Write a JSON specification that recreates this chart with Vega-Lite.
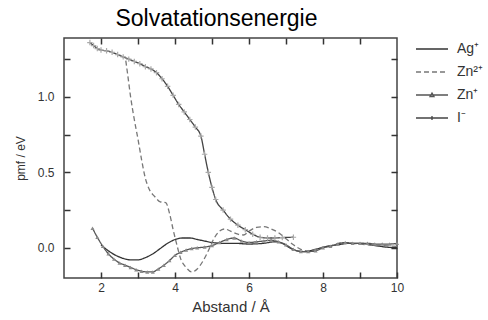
{
  "$schema": "https://vega.github.io/schema/vega-lite/v6.json",
  "autosize": {"type": "none"},
  "width": 333,
  "height": 240,
  "padding": {"left": 64, "top": 38, "right": 91, "bottom": 42},
  "background": "white",
  "config": {
    "font": "Liberation Sans",
    "view": {"stroke": "#444", "strokeWidth": 1.5},
    "axis": {"grid": false, "domain": false, "labelColor": "#333", "labelFont": "Liberation Sans", "labelFontSize": 12, "titleFont": "Liberation Sans", "titleFontWeight": "normal", "titleColor": "#333"}
  },
  "title": {"text": "Solvatationsenergie", "fontSize": 23, "font": "Liberation Sans", "fontWeight": "normal", "color": "#000", "dx": -14, "offset": 6},
  "datasets": {
    "curves": [
      {"ion": "Ag\u207a", "r": 2.00, "pmf": 0.02},
      {"ion": "Ag\u207a", "r": 2.20, "pmf": -0.02},
      {"ion": "Ag\u207a", "r": 2.40, "pmf": -0.05},
      {"ion": "Ag\u207a", "r": 2.60, "pmf": -0.07},
      {"ion": "Ag\u207a", "r": 2.80, "pmf": -0.08},
      {"ion": "Ag\u207a", "r": 3.00, "pmf": -0.08},
      {"ion": "Ag\u207a", "r": 3.20, "pmf": -0.065},
      {"ion": "Ag\u207a", "r": 3.40, "pmf": -0.04},
      {"ion": "Ag\u207a", "r": 3.60, "pmf": -0.005},
      {"ion": "Ag\u207a", "r": 3.80, "pmf": 0.03},
      {"ion": "Ag\u207a", "r": 4.00, "pmf": 0.055},
      {"ion": "Ag\u207a", "r": 4.20, "pmf": 0.065},
      {"ion": "Ag\u207a", "r": 4.40, "pmf": 0.065},
      {"ion": "Ag\u207a", "r": 4.60, "pmf": 0.055},
      {"ion": "Ag\u207a", "r": 4.80, "pmf": 0.045},
      {"ion": "Ag\u207a", "r": 5.00, "pmf": 0.035},
      {"ion": "Ag\u207a", "r": 5.30, "pmf": 0.03},
      {"ion": "Ag\u207a", "r": 5.60, "pmf": 0.03},
      {"ion": "Ag\u207a", "r": 6.00, "pmf": 0.025},
      {"ion": "Ag\u207a", "r": 6.40, "pmf": 0.03},
      {"ion": "Ag\u207a", "r": 6.70, "pmf": 0.04},
      {"ion": "Ag\u207a", "r": 6.90, "pmf": 0.03},
      {"ion": "Ag\u207a", "r": 7.10, "pmf": 0.0},
      {"ion": "Ag\u207a", "r": 7.30, "pmf": -0.02},
      {"ion": "Ag\u207a", "r": 7.50, "pmf": -0.025},
      {"ion": "Ag\u207a", "r": 7.80, "pmf": -0.01},
      {"ion": "Ag\u207a", "r": 8.10, "pmf": 0.01},
      {"ion": "Ag\u207a", "r": 8.40, "pmf": 0.02},
      {"ion": "Ag\u207a", "r": 8.70, "pmf": 0.03},
      {"ion": "Ag\u207a", "r": 9.00, "pmf": 0.03},
      {"ion": "Ag\u207a", "r": 9.40, "pmf": 0.015},
      {"ion": "Ag\u207a", "r": 9.70, "pmf": 0.005},
      {"ion": "Ag\u207a", "r": 10.0, "pmf": 0.0},
      {"ion": "Zn\u00b2\u207a", "r": 2.67, "pmf": 1.24},
      {"ion": "Zn\u00b2\u207a", "r": 2.72, "pmf": 1.15},
      {"ion": "Zn\u00b2\u207a", "r": 2.80, "pmf": 1.0},
      {"ion": "Zn\u00b2\u207a", "r": 2.90, "pmf": 0.85},
      {"ion": "Zn\u00b2\u207a", "r": 3.00, "pmf": 0.72},
      {"ion": "Zn\u00b2\u207a", "r": 3.10, "pmf": 0.58},
      {"ion": "Zn\u00b2\u207a", "r": 3.20, "pmf": 0.46},
      {"ion": "Zn\u00b2\u207a", "r": 3.30, "pmf": 0.39},
      {"ion": "Zn\u00b2\u207a", "r": 3.45, "pmf": 0.34},
      {"ion": "Zn\u00b2\u207a", "r": 3.60, "pmf": 0.305},
      {"ion": "Zn\u00b2\u207a", "r": 3.75, "pmf": 0.30},
      {"ion": "Zn\u00b2\u207a", "r": 3.85, "pmf": 0.23},
      {"ion": "Zn\u00b2\u207a", "r": 3.95, "pmf": 0.12},
      {"ion": "Zn\u00b2\u207a", "r": 4.05, "pmf": 0.02},
      {"ion": "Zn\u00b2\u207a", "r": 4.15, "pmf": -0.07},
      {"ion": "Zn\u00b2\u207a", "r": 4.30, "pmf": -0.13},
      {"ion": "Zn\u00b2\u207a", "r": 4.45, "pmf": -0.16},
      {"ion": "Zn\u00b2\u207a", "r": 4.60, "pmf": -0.14},
      {"ion": "Zn\u00b2\u207a", "r": 4.75, "pmf": -0.09},
      {"ion": "Zn\u00b2\u207a", "r": 4.90, "pmf": -0.02},
      {"ion": "Zn\u00b2\u207a", "r": 5.05, "pmf": 0.06},
      {"ion": "Zn\u00b2\u207a", "r": 5.20, "pmf": 0.11},
      {"ion": "Zn\u00b2\u207a", "r": 5.35, "pmf": 0.125},
      {"ion": "Zn\u00b2\u207a", "r": 5.50, "pmf": 0.11},
      {"ion": "Zn\u00b2\u207a", "r": 5.70, "pmf": 0.09},
      {"ion": "Zn\u00b2\u207a", "r": 5.85, "pmf": 0.085},
      {"ion": "Zn\u00b2\u207a", "r": 6.00, "pmf": 0.11},
      {"ion": "Zn\u00b2\u207a", "r": 6.20, "pmf": 0.135},
      {"ion": "Zn\u00b2\u207a", "r": 6.40, "pmf": 0.14},
      {"ion": "Zn\u00b2\u207a", "r": 6.60, "pmf": 0.125},
      {"ion": "Zn\u00b2\u207a", "r": 6.80, "pmf": 0.10},
      {"ion": "Zn\u00b2\u207a", "r": 7.00, "pmf": 0.06},
      {"ion": "Zn\u00b2\u207a", "r": 7.20, "pmf": 0.02},
      {"ion": "Zn\u00b2\u207a", "r": 7.40, "pmf": -0.01},
      {"ion": "Zn\u00b2\u207a", "r": 7.60, "pmf": -0.02},
      {"ion": "Zn\u00b2\u207a", "r": 7.80, "pmf": -0.01},
      {"ion": "Zn\u00b2\u207a", "r": 8.00, "pmf": 0.005},
      {"ion": "Zn\u00b2\u207a", "r": 8.30, "pmf": 0.02},
      {"ion": "Zn\u00b2\u207a", "r": 8.50, "pmf": 0.035},
      {"ion": "Zn\u00b2\u207a", "r": 8.80, "pmf": 0.03},
      {"ion": "Zn\u00b2\u207a", "r": 9.20, "pmf": 0.02},
      {"ion": "Zn\u00b2\u207a", "r": 9.60, "pmf": 0.015},
      {"ion": "Zn\u00b2\u207a", "r": 10.0, "pmf": 0.01},
      {"ion": "Zn\u207a", "r": 1.77, "pmf": 0.13},
      {"ion": "Zn\u207a", "r": 1.90, "pmf": 0.07},
      {"ion": "Zn\u207a", "r": 2.05, "pmf": 0.01},
      {"ion": "Zn\u207a", "r": 2.20, "pmf": -0.04},
      {"ion": "Zn\u207a", "r": 2.35, "pmf": -0.075},
      {"ion": "Zn\u207a", "r": 2.50, "pmf": -0.10},
      {"ion": "Zn\u207a", "r": 2.65, "pmf": -0.115},
      {"ion": "Zn\u207a", "r": 2.80, "pmf": -0.13},
      {"ion": "Zn\u207a", "r": 2.95, "pmf": -0.145},
      {"ion": "Zn\u207a", "r": 3.10, "pmf": -0.155},
      {"ion": "Zn\u207a", "r": 3.25, "pmf": -0.16},
      {"ion": "Zn\u207a", "r": 3.40, "pmf": -0.16},
      {"ion": "Zn\u207a", "r": 3.55, "pmf": -0.14},
      {"ion": "Zn\u207a", "r": 3.70, "pmf": -0.115},
      {"ion": "Zn\u207a", "r": 3.85, "pmf": -0.085},
      {"ion": "Zn\u207a", "r": 4.00, "pmf": -0.05},
      {"ion": "Zn\u207a", "r": 4.15, "pmf": -0.03},
      {"ion": "Zn\u207a", "r": 4.30, "pmf": -0.015},
      {"ion": "Zn\u207a", "r": 4.45, "pmf": -0.005},
      {"ion": "Zn\u207a", "r": 4.60, "pmf": 0.0},
      {"ion": "Zn\u207a", "r": 4.80, "pmf": 0.005},
      {"ion": "Zn\u207a", "r": 5.00, "pmf": 0.015},
      {"ion": "Zn\u207a", "r": 5.20, "pmf": 0.035},
      {"ion": "Zn\u207a", "r": 5.40, "pmf": 0.055},
      {"ion": "Zn\u207a", "r": 5.60, "pmf": 0.065},
      {"ion": "Zn\u207a", "r": 5.80, "pmf": 0.045},
      {"ion": "Zn\u207a", "r": 6.00, "pmf": 0.035},
      {"ion": "Zn\u207a", "r": 6.20, "pmf": 0.04},
      {"ion": "Zn\u207a", "r": 6.40, "pmf": 0.045},
      {"ion": "Zn\u207a", "r": 6.60, "pmf": 0.05},
      {"ion": "Zn\u207a", "r": 6.80, "pmf": 0.04},
      {"ion": "Zn\u207a", "r": 7.00, "pmf": 0.02},
      {"ion": "Zn\u207a", "r": 7.20, "pmf": -0.01},
      {"ion": "Zn\u207a", "r": 7.40, "pmf": -0.025},
      {"ion": "Zn\u207a", "r": 7.60, "pmf": -0.025},
      {"ion": "Zn\u207a", "r": 7.80, "pmf": -0.02},
      {"ion": "Zn\u207a", "r": 8.00, "pmf": 0.0},
      {"ion": "Zn\u207a", "r": 8.20, "pmf": 0.01},
      {"ion": "Zn\u207a", "r": 8.40, "pmf": 0.025},
      {"ion": "Zn\u207a", "r": 8.60, "pmf": 0.035},
      {"ion": "Zn\u207a", "r": 8.80, "pmf": 0.03},
      {"ion": "Zn\u207a", "r": 9.00, "pmf": 0.03},
      {"ion": "Zn\u207a", "r": 9.20, "pmf": 0.03},
      {"ion": "Zn\u207a", "r": 9.40, "pmf": 0.025},
      {"ion": "Zn\u207a", "r": 9.60, "pmf": 0.025},
      {"ion": "Zn\u207a", "r": 9.80, "pmf": 0.025},
      {"ion": "Zn\u207a", "r": 10.0, "pmf": 0.03},
      {"ion": "I\u207b", "r": 1.70, "pmf": 1.36},
      {"ion": "I\u207b", "r": 1.80, "pmf": 1.34},
      {"ion": "I\u207b", "r": 1.90, "pmf": 1.32},
      {"ion": "I\u207b", "r": 2.00, "pmf": 1.31},
      {"ion": "I\u207b", "r": 2.15, "pmf": 1.305},
      {"ion": "I\u207b", "r": 2.30, "pmf": 1.295},
      {"ion": "I\u207b", "r": 2.45, "pmf": 1.28},
      {"ion": "I\u207b", "r": 2.60, "pmf": 1.265},
      {"ion": "I\u207b", "r": 2.75, "pmf": 1.25},
      {"ion": "I\u207b", "r": 2.90, "pmf": 1.235},
      {"ion": "I\u207b", "r": 3.05, "pmf": 1.22},
      {"ion": "I\u207b", "r": 3.20, "pmf": 1.20},
      {"ion": "I\u207b", "r": 3.35, "pmf": 1.185},
      {"ion": "I\u207b", "r": 3.50, "pmf": 1.16},
      {"ion": "I\u207b", "r": 3.65, "pmf": 1.12},
      {"ion": "I\u207b", "r": 3.80, "pmf": 1.07},
      {"ion": "I\u207b", "r": 3.95, "pmf": 1.01},
      {"ion": "I\u207b", "r": 4.10, "pmf": 0.95},
      {"ion": "I\u207b", "r": 4.25, "pmf": 0.90},
      {"ion": "I\u207b", "r": 4.40, "pmf": 0.85},
      {"ion": "I\u207b", "r": 4.55, "pmf": 0.80},
      {"ion": "I\u207b", "r": 4.70, "pmf": 0.74},
      {"ion": "I\u207b", "r": 4.80, "pmf": 0.62},
      {"ion": "I\u207b", "r": 4.90, "pmf": 0.50},
      {"ion": "I\u207b", "r": 5.00, "pmf": 0.40},
      {"ion": "I\u207b", "r": 5.10, "pmf": 0.32},
      {"ion": "I\u207b", "r": 5.30, "pmf": 0.25},
      {"ion": "I\u207b", "r": 5.50, "pmf": 0.19},
      {"ion": "I\u207b", "r": 5.70, "pmf": 0.15},
      {"ion": "I\u207b", "r": 5.90, "pmf": 0.12},
      {"ion": "I\u207b", "r": 6.10, "pmf": 0.09},
      {"ion": "I\u207b", "r": 6.30, "pmf": 0.07},
      {"ion": "I\u207b", "r": 6.50, "pmf": 0.065},
      {"ion": "I\u207b", "r": 6.70, "pmf": 0.065},
      {"ion": "I\u207b", "r": 6.90, "pmf": 0.068},
      {"ion": "I\u207b", "r": 7.20, "pmf": 0.07}
    ]
  },
  "data": {"name": "curves"},
  "resolve": {"axis": {"x": "independent", "y": "independent"}},
  "layer": [
    {
      "mark": {"type": "line", "strokeWidth": 1.3, "interpolate": "monotone"},
      "encoding": {
        "x": {"field": "r", "type": "quantitative", "scale": {"domain": [1, 10], "nice": false, "zero": false},
          "axis": {"values": [2, 3, 4, 5, 6, 7, 8, 9, 10], "ticks": true, "tickSize": -6, "tickWidth": 1.5, "tickColor": "#333333", "labelExpr": "datum.value % 2 === 0 ? datum.label : ''", "labelPadding": 10, "labelFlush": false, "title": "Abstand / \u00c5", "titleFontSize": 15, "titlePadding": 6}},
        "y": {"field": "pmf", "type": "quantitative", "scale": {"domain": [-0.2, 1.39], "nice": false, "zero": false},
          "axis": {"values": [0, 0.25, 0.5, 0.75, 1.0, 1.25], "ticks": true, "tickSize": -6, "tickWidth": 1.5, "tickColor": "#333333", "labelExpr": "abs(datum.value * 2 - round(datum.value * 2)) < 0.001 ? format(datum.value, '.1f') : ''", "labelPadding": 16, "title": "pmf / eV", "titleFontSize": 12, "titlePadding": 10}},
        "color": {"field": "ion", "type": "nominal", "sort": null,
          "scale": {"domain": ["Ag\u207a", "Zn\u00b2\u207a", "Zn\u207a", "I\u207b"], "range": ["#333333", "#777777", "#555555", "#444444"]},
          "legend": {"orient": "none", "legendX": 367, "legendY": 2, "title": null, "symbolType": "stroke", "symbolSize": 256, "symbolStrokeWidth": 1.3, "labelFontSize": 14, "labelColor": "#333", "labelOffset": 8, "rowPadding": 7,
            "encode": {"symbols": {"update": {"shape": {"signal": "datum.value === 'Zn\u207a' ? 'M-3,0H1M-1.25,0.2L-1,-0.24L-0.75,0.2Z' : datum.value === 'I\u207b' ? 'M-3,0H1M-1,-0.25V0.25' : 'M-3,0H1'"}}}}}},
        "strokeDash": {"field": "ion", "type": "nominal", "sort": null,
          "scale": {"domain": ["Ag\u207a", "Zn\u00b2\u207a", "Zn\u207a", "I\u207b"], "range": [[1, 0], [5, 3], [1, 0], [1, 0]]}}
      }
    },
    {
      "transform": [{"filter": "datum.ion === 'Zn\u207a'"}],
      "mark": {"type": "point", "shape": "triangle-up", "filled": true, "size": 16, "color": "#8a8a8a", "opacity": 1},
      "encoding": {
        "x": {"field": "r", "type": "quantitative", "axis": null},
        "y": {"field": "pmf", "type": "quantitative", "axis": null}
      }
    },
    {
      "transform": [{"filter": "datum.ion === 'I\u207b'"}],
      "mark": {"type": "point", "shape": "M-1,0H1M0,-1V1", "filled": false, "size": 30, "stroke": "#aaaaaa", "strokeWidth": 1.2, "opacity": 1},
      "encoding": {
        "x": {"field": "r", "type": "quantitative", "axis": null},
        "y": {"field": "pmf", "type": "quantitative", "axis": null}
      }
    },
    {
      "mark": {"type": "point", "opacity": 0},
      "encoding": {
        "x": {"field": "r", "type": "quantitative", "axis": {"orient": "top", "values": [2, 3, 4, 5, 6, 7, 8, 9], "ticks": true, "tickSize": -6, "tickWidth": 1.5, "tickColor": "#333333", "labels": false, "title": null}},
        "y": {"field": "pmf", "type": "quantitative", "axis": {"orient": "right", "values": [0, 0.25, 0.5, 0.75, 1.0, 1.25], "ticks": true, "tickSize": -6, "tickWidth": 1.5, "tickColor": "#333333", "labels": false, "title": null}}
      }
    }
  ]
}
